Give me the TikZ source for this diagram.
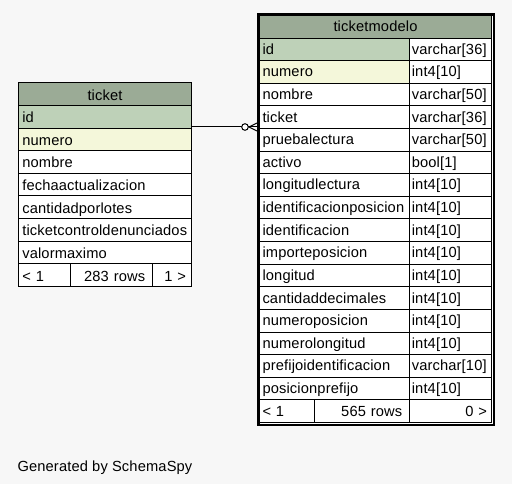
\documentclass[tikz,border=0pt]{standalone}
\usepackage{fontspec}
\setmainfont[LetterSpace=1]{Liberation Sans}
\usetikzlibrary{calc}
\definecolor{bg}{HTML}{F7F7F7}
\definecolor{hdr}{HTML}{9BAB96}
\definecolor{pk}{HTML}{BED1B8}
\definecolor{idx}{HTML}{F4F7DA}
\newcommand{\tfont}{\fontsize{14.67}{17}\selectfont}
\begin{document}
\begin{tikzpicture}[x=1pt,y=-1pt,
  cell/.style={draw=black, line width=1pt, fill=white, inner ysep=0pt, inner xsep=3.8pt,
    outer sep=0pt, anchor=north west, font=\tfont, align=left},
  tk/.style={minimum height=22.63pt, text height=13.5pt, text depth=1.7pt},
  tm/.style={minimum height=22.61pt, text height=12.5pt, text depth=2.7pt},
  conn/.style={draw=black, line width=1pt}]
\useasboundingbox (0,0) rectangle (512,484);
\fill[bg] (0,0) rectangle (512,484);

% ---- table ticket ----
\node[cell,tk,fill=hdr,align=center,text width=165.4pt] (t-h) at (18.5,82.8) {ticket};
\foreach \n/\c [count=\i] in {id/pk,numero/idx,nombre/white,fechaactualizacion/white,cantidadporlotes/white,ticketcontroldenunciados/white,valormaximo/white}
  \node[cell,tk,fill=\c,text width=165.4pt] (t-\i) at (18.5,{82.8+\i*22.63}) {\n};
\node[cell,tk,text width=44.7pt] (t-f1) at (18.5,263.84) {< 1};
\node[cell,tk,align=right,inner xsep=7pt,text width=67.4pt] (t-f2) at (70.8,263.84) {283 rows};
\node[cell,tk,align=right,inner xsep=5.5pt,text width=28.3pt] (t-f3) at (152.2,263.84) {1 >};

% ---- table ticketmodelo ----
\fill[black] (257,13) rectangle (495,426);
\fill[white] (260,16) rectangle (493,424);
\node[cell,tm,fill=hdr,align=center,inner xsep=4pt,text width=224pt] (m-h) at (259.5,15.5) {ticketmodelo};
\foreach \n/\ty/\c [count=\i] in {id/{varchar[36]}/pk,numero/{int4[10]}/idx,nombre/{varchar[50]}/white,ticket/{varchar[36]}/white,pruebalectura/{varchar[50]}/white,activo/{bool[1]}/white,longitudlectura/{int4[10]}/white,identificacionposicion/{int4[10]}/white,identificacion/{int4[10]}/white,importeposicion/{int4[10]}/white,longitud/{int4[10]}/white,cantidaddecimales/{int4[10]}/white,numeroposicion/{int4[10]}/white,numerolongitud/{int4[10]}/white,prefijoidentificacion/{varchar[10]}/white,posicionprefijo/{int4[10]}/white}
{
  \node[cell,tm,fill=\c,inner xsep=3pt,text width=144.3pt] (m-\i) at (259.5,{15.5+\i*22.61}) {\n};
  \node[cell,tm,inner xsep=2pt,text width=77.7pt] (mt-\i) at (409.8,{15.5+\i*22.61}) {\ty};
}
\node[cell,tm,inner xsep=3pt,text width=49.3pt] (m-f1) at (259.5,399.87) {< 1};
\node[cell,tm,align=right,inner xsep=7.5pt,text width=80pt] (m-f2) at (314.8,399.87) {565 rows};
\node[cell,tm,align=right,inner xsep=4.5pt,text width=72.7pt] (m-f3) at (409.8,399.87) {0 >};

% ---- connector ticket.id -> ticketmodelo.ticket ----
\coordinate (ca) at ([yshift=1.06pt]t-1.south east);
\coordinate (cb) at ([xshift=-2.5pt]ca -| m-4.west);
\coordinate (cc) at ([xshift=-12pt]cb);
\draw[conn] (ca) -- ([xshift=-3.3pt]cc);
\draw[conn,fill=white] (cc) circle[radius=3.3pt];
\draw[conn] ([xshift=-8.7pt]cb) -- (cb);
\draw[conn] ([xshift=-8pt]cb) -- ([yshift=4pt]cb);
\draw[conn] ([xshift=-8pt]cb) -- ([yshift=-4pt]cb);

\node[anchor=base west, font=\tfont, inner sep=0pt] (gen) at (17.3,471) {Generated by SchemaSpy};
\end{tikzpicture}
\end{document}
